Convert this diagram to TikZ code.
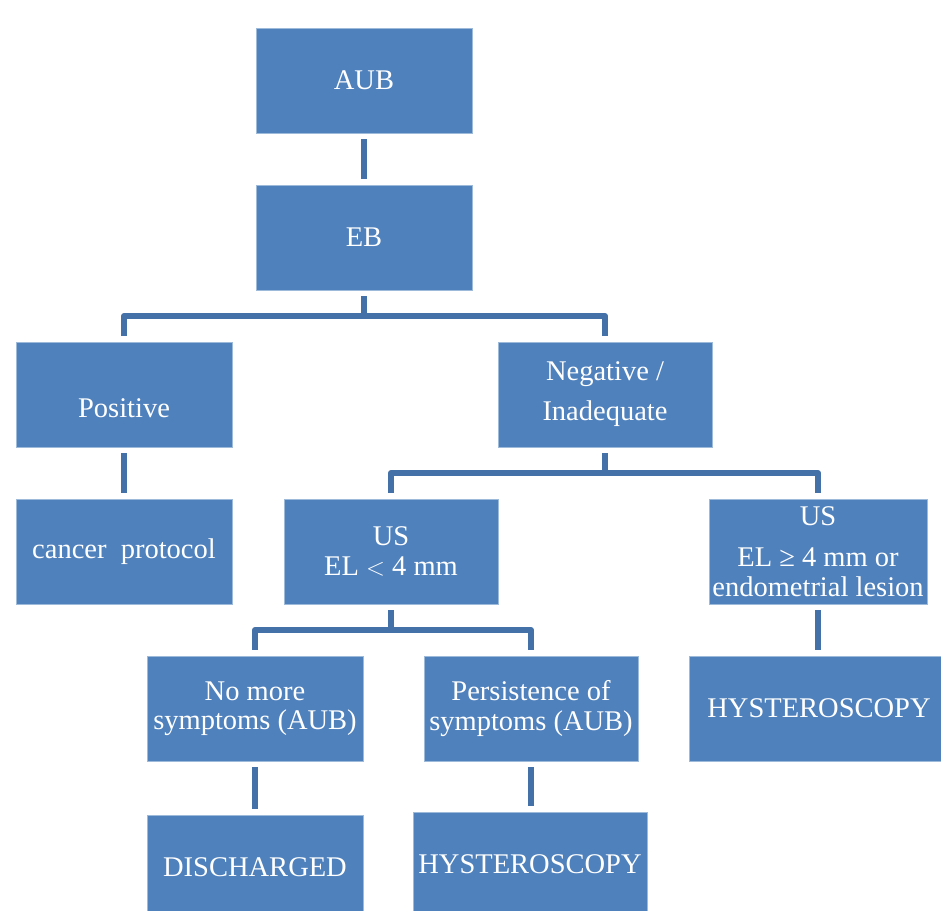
\documentclass[tikz,border=0pt]{standalone}
\usepackage{fontspec}
\setmainfont{Liberation Serif}
\definecolor{boxblue}{HTML}{4F81BD}
\definecolor{lineblue}{HTML}{4472A8}
\begin{document}
\begin{tikzpicture}[x=1pt,y=-1pt,
    box/.style={fill=boxblue,draw=boxblue!55!white,line width=.8pt,text=white,align=center,
        inner sep=0pt,outer sep=0pt,minimum height=105pt,font=\fontsize{28.5}{29.5}\selectfont},
    conn/.style={draw=lineblue,line width=6pt,line join=round}]
    \clip(0,0)rectangle(941,910);
    % boxes
    \node[box,minimum width=216pt](aub)at(364,80.5){AUB};
    \node[box,minimum width=216pt](eb)at(364,237.5){EB};
    \node[box,minimum width=216pt](pos)at(124,394.5){};
    \node[text=white,font=\fontsize{28.5}{29.5}\selectfont](postxt)at([yshift=-14pt]pos.center){Positive};
    \node[box,minimum width=214pt](neg)at(605,394.5){Negative /\\[10.5pt]Inadequate};
    \node[box,minimum width=216pt](cancer)at(124,551.5){cancer\ \ protocol};
    \node[box,minimum width=214pt](uslo)at(391,551.5){US\\EL $<$ 4 mm};
    \node[box,minimum width=218pt](ushi)at(818,551.5){US\\[11.5pt]EL ≥ 4 mm or\\endometrial lesion};
    \node[box,minimum width=216pt](nomore)at(255,708.5){No more\\symptoms (AUB)};
    \node[box,minimum width=214pt](pers)at(531,708.5){Persistence of\\symptoms (AUB)};
    \node[box,minimum width=260pt](hystA)at(819,708.5){HYSTEROSCOPY};
    \node[box,minimum width=216pt](disch)at(255,867.5){DISCHARGED};
    \node[box,minimum width=234pt](hystB)at(530,864.5){HYSTEROSCOPY};
    % junctions
    \coordinate(j1)at(364,316);
    \coordinate(j2)at(605,473);
    \coordinate(j3)at(391,630);
    % connectors
    \draw[conn]([yshift=-6pt]aub.south)--([yshift=6pt]eb.north);
    \draw[conn]([yshift=-6pt]eb.south)--(j1);
    \draw[conn]([yshift=6pt]pos.north)|-(j1)-|([yshift=6pt]neg.north);
    \draw[conn]([yshift=-6pt]pos.south)--([yshift=6pt]cancer.north);
    \draw[conn]([yshift=-6pt]neg.south)--(j2);
    \draw[conn]([yshift=6pt]uslo.north)|-(j2)-|([yshift=6pt]ushi.north);
    \draw[conn]([yshift=-6pt]uslo.south)--(j3);
    \draw[conn]([yshift=6pt]nomore.north)|-(j3)-|([yshift=6pt]pers.north);
    \draw[conn]([yshift=-6pt]ushi.south)--([yshift=6pt]ushi.south|-hystA.north);
    \draw[conn]([yshift=-6pt]nomore.south)--([yshift=6pt]disch.north);
    \draw[conn]([yshift=-6pt]pers.south)--([yshift=6pt]pers.south|-hystB.north);
\end{tikzpicture}
\end{document}
